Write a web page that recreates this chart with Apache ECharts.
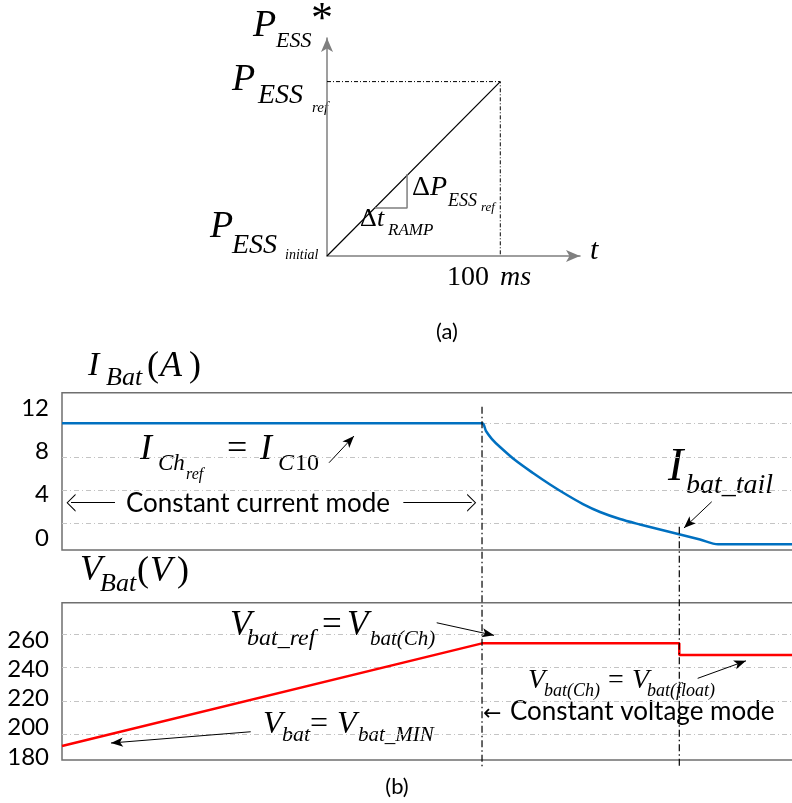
<!DOCTYPE html>
<html><head><meta charset="utf-8">
<script src="https://cdn.jsdelivr.net/npm/echarts@6/dist/echarts.min.js"></script>
<style>html,body{margin:0;padding:0;background:#fff}#c{width:792px;height:803px}</style>
</head><body><div id="c"></div>
<script>
// ---------------- data ----------------
// (a) power reference ramp (P normalised: 0 = P_initial, 1 = P_ref), time in ms
const rampTime = [0, 100];
const rampPower = [0, 1];
const rampStepTime = [27.7, 46.2, 46.2];
const rampStepPower = [0.275, 0.275, 0.47];

// (b) battery current (A) vs time (% of window)
const currentTime = [0, 57.38, 57.92, 58.74, 59.84, 61.89, 64.34, 66.67, 68.99, 71.17, 73.50, 76.23, 78.96, 81.69, 84.43, 87.16, 89.62, 100];
const currentAmp  = [12, 12, 11.08, 10.12, 9.17, 7.61, 6.06, 4.69, 3.43, 2.35, 1.40, 0.56, -0.09, -0.69, -1.29, -1.89, -2.46, -2.46];
const currentTicks = [0, 4, 8, 12];
const currentGridValues = [0, 4, 8, 12];

// (b) battery voltage (V)
const voltTime  = [0, 57.38, 84.33, 84.33, 100];
const voltValue = [193, 254.6, 254.6, 247.6, 247.6];
const voltTicks = [180, 200, 220, 240, 260];
const voltGridValues = [200, 220, 240, 260];

// mode boundaries (time) and their vertical extent on the overlay
const boundaryTime = [57.38, 84.33];
const boundaryTop = [26.7, 146.7];
const boundaryBottom = [386.7, 386.7];

// annotation arrows [x1, y1, x2, y2, kind]
const currentArrows = [
  [7.24, 2.51, 1.23, 2.51, 'open'],
  [46.63, 2.51, 55.97, 2.51, 'open'],
  [36.48, 7.29, 39.89, 10.48, 'solid'],
  [88.76, 2.63, 84.97, -0.51, 'solid']
];
const voltArrows = [
  [51.19, 266.96, 59.02, 259.4, 'solid'],
  [86.84, 233.6, 93.44, 244.1, 'solid'],
  [25.78, 201.55, 6.69, 194.8, 'solid']
];

// ---------------- chart ----------------
const zip = (a, b) => a.map((v, i) => [v, b[i]]);
const SERIF = '"Liberation Serif", "Times New Roman", serif';
const SANS = 'Lato, "Open Sans", sans-serif';
const GRIDLINE = {color: '#c4c4c4', width: 1, type: [5, 3, 1, 3]};
const DASHDOT = [7, 3, 1.5, 3];
const CHEVRON = 'path://M0,9 L9,0 L18,9 L16.6,9 L9,1.4 L1.4,9 Z';

function arrowLines(list) {
  return list.map(a => [
    {coord: [a[0], a[1]], symbol: 'none'},
    {coord: [a[2], a[3]], symbol: a[4] === 'open' ? CHEVRON : 'arrow', symbolSize: a[4] === 'open' ? [18, 9] : [7, 12]}
  ]);
}

function piece(t, x, base, size, it) {
  return {type: 'text', x: x, y: base - 0.3375 * size, silent: true,
    style: {text: t, fill: '#000', fontFamily: SERIF, fontSize: size, fontStyle: it ? 'italic' : 'normal',
      align: 'left', verticalAlign: 'middle'}};
}
function sans(t, x, base, size, align) {
  return {type: 'text', x: x, y: base - 0.387 * size, silent: true,
    style: {text: t, fill: '#000', fontFamily: SANS, fontSize: size, align: align || 'left', verticalAlign: 'middle'}};
}

const P = [
  ['P',253,39,38,1], ['ESS',276,49,22,1], ['*',311,35,44,0],
  ['P',232,93,38,1], ['ESS',258,105,28,1], ['ref',312,113,15,1],
  ['P',210,240,38,1], ['ESS',232,255,28,1], ['initial',285,260,14,1],
  ['\u0394',412,197,28,0], ['P',430,197,28,1], ['ESS',448,207,18,1], ['ref',481,212,13,1],
  ['\u0394',360,228,26,0], ['t',377,228,26,1], ['RAMP',388,236,17,1],
  ['t',590,261,30,1],
  ['100',447,287,28,0], ['ms',500,287,28,1],
  ['I',88,378,34,1], ['Bat',106,387,26,1], ['(',147,379,36,0], ['A',160,379,36,1], [')',189,379,36,0],
  ['I',140,462,36,1], ['Ch',158,472,23,1], ['ref',186,480,16,1], ['=',227,462,36,0], ['I',260,462,36,1], ['C',278,472,24,1], ['10',295,472,24,0],
  ['I',668,483,46,1], ['bat_tail',686,495,28,1],
  ['V',80,583,36,1], ['Bat',100,593,26,1], ['(',137,584,36,0], ['V',150,584,36,1], [')',177,584,36,0],
  ['V',230,638,35,1], ['bat_ref',247,647,24,1], ['=',322,638,35,0], ['V',347,638,35,1], ['bat(Ch)',370,647,21,1],
  ['V',528,690,28,1], ['bat(Ch)',544,697,18,1], ['=',608,690,28,0], ['V',632,690,28,1], ['bat(float)',647,697,18,1],
  ['V',263,735,32,1], ['bat',282,743,22,1], ['=',310,735,32,0], ['V',337,735,32,1], ['bat_MIN',358,743,21,1]
];

const graphics = P.map(p => piece(p[0], p[1], p[2], p[3], p[4]));
graphics.push(sans('Constant current mode', 126, 514, 26));
graphics.push(sans('Constant voltage mode', 510, 722, 26));
graphics.push({type: 'text', x: 483, y: 714, silent: true,
  style: {text: '\u2190', fill: '#000', fontFamily: '"DejaVu Sans"', fontSize: 22, align: 'left', verticalAlign: 'middle'}});
graphics.push({type: 'text', x: 447, y: 332, silent: true,
  style: {text: '(a)', fill: '#000', fontFamily: SANS, fontSize: 22, align: 'center', verticalAlign: 'middle'}});
graphics.push({type: 'text', x: 397, y: 787, silent: true,
  style: {text: '(b)', fill: '#000', fontFamily: SANS, fontSize: 22, align: 'center', verticalAlign: 'middle'}});

const hiddenX = (gi) => ({gridIndex: gi, type: 'value', min: 0, max: 100, show: false});
const border = {show: true, borderColor: '#6f6f6f', borderWidth: 1.5, backgroundColor: 'transparent'};

const option = {
  animation: false,
  backgroundColor: '#fff',
  grid: [
    Object.assign({left: 62, right: -2, top: 392.7, bottom: 253, outerBoundsMode: 'none'}, border),
    Object.assign({left: 62, right: -2, top: 602.7, bottom: 43, outerBoundsMode: 'none'}, border),
    {left: 327, right: 212, top: 38, bottom: 547, outerBoundsMode: 'none'},
    {left: 62, right: -2, top: 380, bottom: 23, outerBoundsMode: 'none'}
  ],
  xAxis: [
    hiddenX(0), hiddenX(1),
    {gridIndex: 2, type: 'value', min: 0, max: 146,
      axisLine: {show: true, symbol: ['none', 'arrow'], symbolSize: [9, 14], lineStyle: {color: '#7f7f7f', width: 1.5}},
      axisTick: {show: false}, axisLabel: {show: false}, splitLine: {show: false}},
    hiddenX(3)
  ],
  yAxis: [
    {gridIndex: 0, type: 'value', position: 'left', min: -3.14, max: 15.66,
      axisLine: {show: false}, axisLabel: {show: false},
      axisTick: {show: false, customValues: currentGridValues},
      splitLine: {show: true, lineStyle: GRIDLINE}},
    {gridIndex: 0, type: 'value', position: 'left', min: -1.108, max: 13.41,
      axisLine: {show: false}, axisTick: {show: false}, splitLine: {show: false},
      axisLabel: {show: true, customValues: currentTicks, color: '#000', fontFamily: SANS, fontSize: 24, margin: 13}},
    {gridIndex: 1, type: 'value', position: 'left', min: 184.6, max: 279.0,
      axisLine: {show: false}, axisLabel: {show: false},
      axisTick: {show: false, customValues: voltGridValues},
      splitLine: {show: true, lineStyle: GRIDLINE}},
    {gridIndex: 1, type: 'value', position: 'left', min: 177.8, max: 285.7,
      axisLine: {show: false}, axisTick: {show: false}, splitLine: {show: false},
      axisLabel: {show: true, customValues: voltTicks, color: '#000', fontFamily: SANS, fontSize: 24, margin: 13}},
    {gridIndex: 2, type: 'value', min: 0, max: 1.25,
      axisLine: {show: true, symbol: ['none', 'arrow'], symbolSize: [9, 14], lineStyle: {color: '#7f7f7f', width: 1.5}},
      axisTick: {show: false}, axisLabel: {show: false}, splitLine: {show: false}},
    {gridIndex: 3, type: 'value', min: 0, max: 400, inverse: true, show: false}
  ],
  series: [
    {type: 'line', name: 'ramp', xAxisIndex: 2, yAxisIndex: 4, data: zip(rampTime, rampPower),
      showSymbol: false, lineStyle: {color: '#000', width: 1.2}},
    {type: 'line', name: 'ramp frame', xAxisIndex: 2, yAxisIndex: 4,
      data: [[rampTime[0], rampPower[1]], [rampTime[1], rampPower[1]], [rampTime[1], rampPower[0]]],
      showSymbol: false, lineStyle: {color: '#000', width: 1, type: [4, 2, 1, 2]}},
    {type: 'line', name: 'ramp step', xAxisIndex: 2, yAxisIndex: 4, data: zip(rampStepTime, rampStepPower),
      showSymbol: false, lineStyle: {color: '#7f7f7f', width: 1.5}},
    {type: 'line', name: 'I_Bat', xAxisIndex: 0, yAxisIndex: 0, data: zip(currentTime, currentAmp),
      showSymbol: false, smooth: 0.3, lineStyle: {color: '#0070C0', width: 2.5},
      markLine: {silent: true, label: {show: false}, lineStyle: {color: '#000', width: 1, type: 'solid'},
        data: arrowLines(currentArrows)}},
    {type: 'line', name: 'V_Bat', xAxisIndex: 1, yAxisIndex: 2, data: zip(voltTime, voltValue),
      showSymbol: false, lineStyle: {color: '#FF0000', width: 2.5},
      markLine: {silent: true, label: {show: false}, lineStyle: {color: '#000', width: 1, type: 'solid'},
        data: arrowLines(voltArrows)}},
    {type: 'line', name: 'boundary 1', xAxisIndex: 3, yAxisIndex: 5,
      data: [[boundaryTime[0], boundaryTop[0]], [boundaryTime[0], boundaryBottom[0]]],
      showSymbol: false, lineStyle: {color: '#000', width: 1.2, type: DASHDOT}},
    {type: 'line', name: 'boundary 2', xAxisIndex: 3, yAxisIndex: 5,
      data: [[boundaryTime[1], boundaryTop[1]], [boundaryTime[1], boundaryBottom[1]]],
      showSymbol: false, lineStyle: {color: '#000', width: 1.2, type: DASHDOT}}
  ],
  graphic: graphics
};

const chart = echarts.init(document.getElementById('c'), null, {renderer: 'canvas'});
chart.setOption(option);
</script>
</body></html>
